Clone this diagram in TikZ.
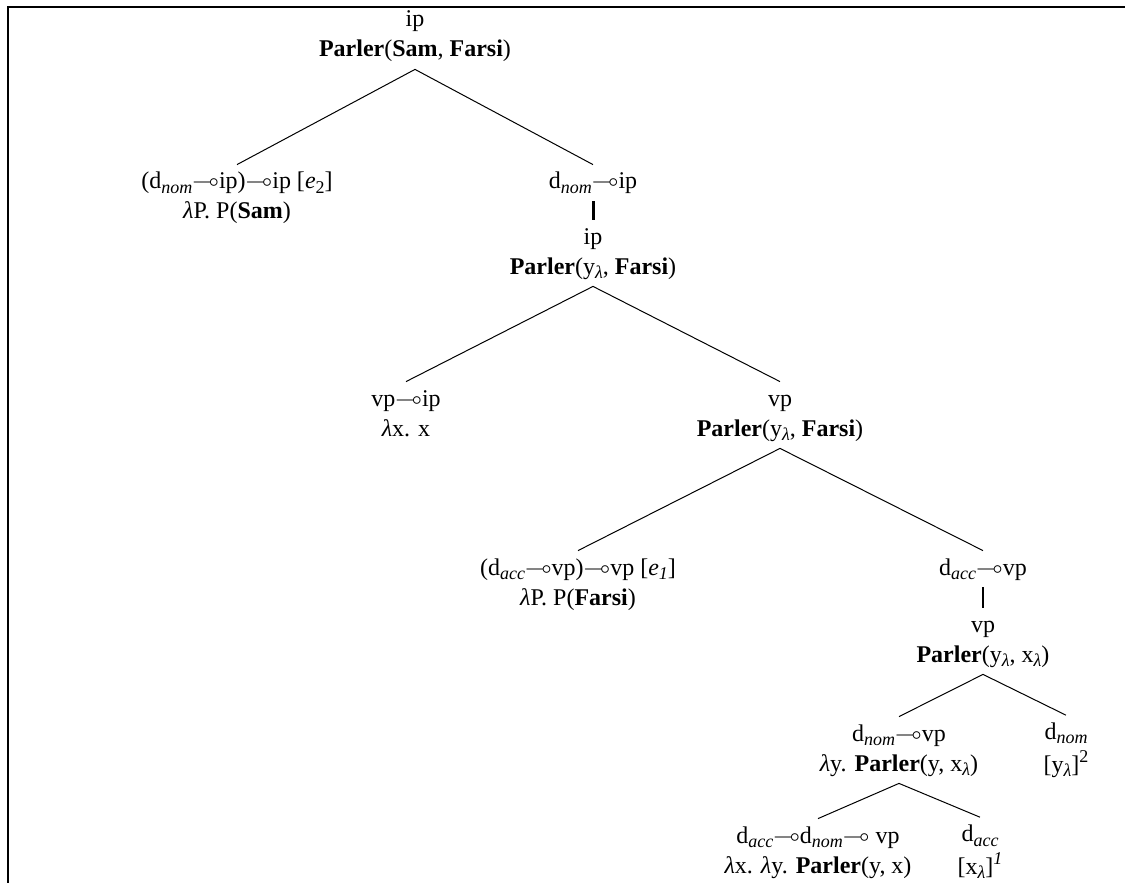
\documentclass[tikz,border=0pt]{standalone}
\usepackage{fontspec}
\setmainfont{Liberation Serif}
\usepackage{amssymb}

\newcommand\lolli{\ensuremath{\multimap}}
\newcommand\lsub[1]{\raisebox{-.4ex}{\fontsize{9}{9}\selectfont\itshape #1}}
\newcommand\lsup[1]{\raisebox{.9ex}{\fontsize{9}{9}\selectfont #1}}
\newcommand\lam{\textit{λ}}
\newcommand\pred[1]{\textbf{#1}}

\begin{document}
\begin{tikzpicture}[
        x=0.5pt,y=-0.5pt,
        cat/.style={align=center,inner xsep=0pt,inner ysep=1.5pt,
                    font=\fontsize{12}{15}\selectfont},
        branch/.style={line width=.5pt},
        unary/.style={line width=1.5pt},
        frame/.style={line width=1pt,line join=miter}
        ]
        \useasboundingbox (0,0) rectangle (1125,883);

        % Frame
        \draw[frame] (8,883) -- (8,7) -- (1125,7);

        % Top part
        \node[cat] (root) at (415,36) {\strut ip\\\strut\pred{Parler}(\pred{Sam}, \pred{Farsi})};
        \node[cat] (e2) at (237,198) {\strut(d\lsub{nom}\lolli ip)\lolli ip [\textit{e}\lsub{\upshape 2}]\\\strut\lam P. P(\pred{Sam})};
        \node[cat] (dnomip) at (593,183) {\strut d\lsub{nom}\lolli ip};
        \node[cat] (ip2) at (593,253) {\strut ip\\\strut\pred{Parler}(y\lsub{λ}, \pred{Farsi})};

        % Middle part
        \node[cat] (vpip) at (406,415) {\strut vp\lolli ip\\\strut\lam x. x};
        \node[cat] (vp1) at (780,415) {\strut vp\\\strut\pred{Parler}(y\lsub{λ}, \pred{Farsi})};
        \node[cat] (e1) at (578,584) {\strut(d\lsub{acc}\lolli vp)\lolli vp [\textit{e}\lsub{1}]\\\strut\lam P. P(\pred{Farsi})};
        \node[cat] (daccvp) at (983,569) {\strut d\lsub{acc}\lolli vp};
        \node[cat] (vp2) at (983,641) {\strut vp\\\strut\pred{Parler}(y\lsub{λ}, x\lsub{λ})};

        % Bottom part
        \node[cat] (dnomvp) at (899,750) {\strut d\lsub{nom}\lolli vp\\\strut\lam y. \pred{Parler}(y, x\lsub{λ})};
        \node[cat] (dnom) at (1066,750) {\strut d\lsub{nom}\\\strut[y\lsub{λ}]\lsup{2}};
        \node[cat] (dfull) at (818,852) {\strut d\lsub{acc}\lolli d\lsub{nom}\lolli\ vp\\\strut\lam x. \lam y. \pred{Parler}(y, x)};
        \node[cat] (dacc) at (980,852) {\strut d\lsub{acc}\\\strut[x\lsub{λ}]\lsup{\itshape 1}};

        % Branches
        \draw[branch] (root.south) -- (e2.north);
        \draw[branch] (root.south) -- (dnomip.north);
        \draw[unary] (dnomip.south) -- (ip2.north);
        \draw[branch] (ip2.south) -- (vpip.north);
        \draw[branch] (ip2.south) -- (vp1.north);
        \draw[branch] (vp1.south) -- (e1.north);
        \draw[branch] (vp1.south) -- (daccvp.north);
        \draw[line width=1pt] (daccvp.south) -- (vp2.north);
        \draw[branch] (vp2.south) -- (dnomvp.north);
        \draw[branch] (vp2.south) -- (dnom.north);
        \draw[branch] (dnomvp.south) -- (dfull.north);
        \draw[branch] (dnomvp.south) -- (dacc.north);
\end{tikzpicture}
\end{document}
